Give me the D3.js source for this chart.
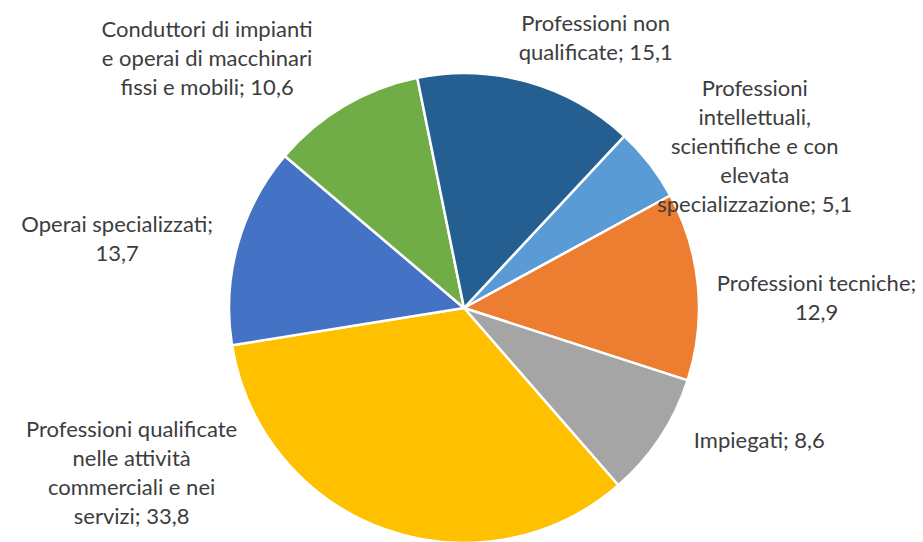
<!DOCTYPE html>
<html>
<head>
<meta charset="utf-8">
<script src="https://cdn.jsdelivr.net/npm/d3@7"></script>
<style>
  body { margin: 0; background: #fff; }
  text { font-family: Lato, "Noto Sans", sans-serif; fill: #3d3d3d; }
</style>
</head>
<body>
<script>
// Chart size
var width = 923;
var height = 542;

// Data: categories (label lines) and values, in drawing order (clockwise)
var labels = [
    ["Professioni", "intellettuali,", "scientifiche e con", "elevata", "specializzazione; 5,1"],
    ["Professioni tecniche;", "12,9"],
    ["Impiegati; 8,6"],
    ["Professioni qualificate", "nelle attività", "commerciali e nei", "servizi; 33,8"],
    ["Operai specializzati;", "13,7"],
    ["Conduttori di impianti", "e operai di macchinari", "fissi e mobili; 10,6"],
    ["Professioni non", "qualificate; 15,1"]
];
var values = [5.1, 12.9, 8.6, 33.8, 13.7, 10.6, 15.1];
var colors = ["#5B9BD5", "#ED7D31", "#A5A5A5", "#FFC000", "#4472C4", "#70AD47", "#255E91"];

// Label nudges from the default label position (layout only)
var labelNudge = [[30, 41], [24, 20], [20, -50], [-220, -145], [-29, 19], [-89, 34], [42, 47]];

var cx = 464, cy = 308, radius = 235;
var startAngle = 43 * Math.PI / 180;

var pie = d3.pie()
    .sort(null)
    .value(function (d) { return d; })
    .startAngle(startAngle)
    .endAngle(startAngle + 2 * Math.PI);

var arc = d3.arc().innerRadius(0).outerRadius(radius);
var labelArc = d3.arc().innerRadius(330).outerRadius(330);

var svg = d3.select("body")
    .append("svg")
    .attr("width", width)
    .attr("height", height);

var g = svg.append("g")
    .attr("transform", "translate(" + cx + "," + cy + ")");

var arcs = pie(values);

// slices
g.selectAll("path")
    .data(arcs)
    .enter()
    .append("path")
    .attr("d", arc)
    .attr("fill", function (d, i) { return colors[i]; })
    .attr("stroke", "#fff")
    .attr("stroke-width", 2.5)
    .attr("stroke-linejoin", "round");

// data labels
var lineH = 29;
g.selectAll("text.lbl")
    .data(arcs)
    .enter()
    .append("text")
    .attr("class", "lbl")
    .attr("text-anchor", "middle")
    .style("font-size", "22px")
    .each(function (d, i) {
        var c = labelArc.centroid(d);
        var x = c[0] + labelNudge[i][0];
        var y = c[1] + labelNudge[i][1];
        var lines = labels[i];
        var top = y - (lines.length - 1) * lineH / 2;
        var t = d3.select(this);
        lines.forEach(function (ln, k) {
            t.append("tspan")
                .attr("x", x)
                .attr("y", top + k * lineH)
                .attr("dy", "0.35em")
                .text(ln);
        });
    });
</script>
</body>
</html>
